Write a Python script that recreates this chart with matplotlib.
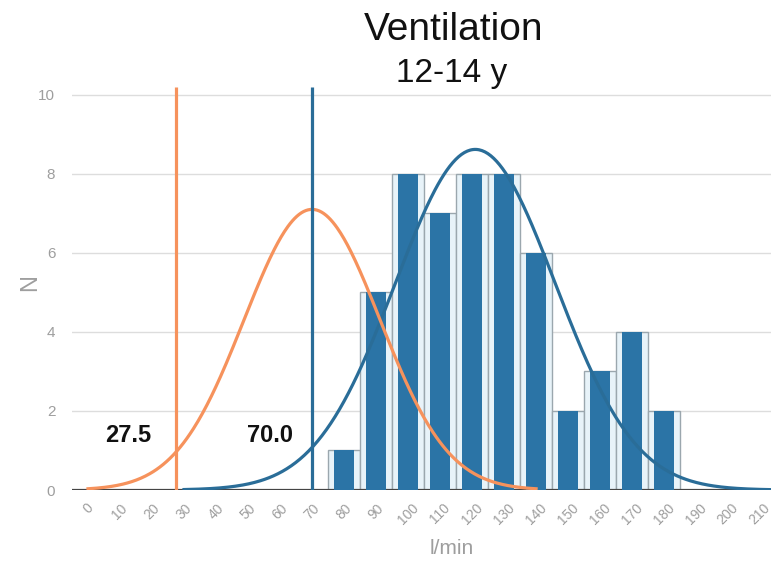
import numpy as np
import matplotlib
matplotlib.use("Agg")
import matplotlib.pyplot as plt

plt.rcParams["font.family"] = ["Liberation Sans", "DejaVu Sans"]

# Histogram of ventilation (l/min), bins of width 10
bin_centers = [80, 90, 100, 110, 120, 130, 140, 150, 160, 170, 180]
counts = [1, 5, 8, 7, 8, 8, 6, 2, 3, 4, 2]
bin_width = 10

# Normal fit to the sample
fit_mean = 121.0
fit_sd = 25.0
fit_range = (30, 213)

# Reference distribution
ref_mean = 70.0
ref_sd = 21.25
ref_peak = 7.1
ref_range = (0, 140)

# Cut-off markers
cut_low = 27.5
cut_ref = 70.0

x_ticks = list(range(0, 211, 10))
y_ticks = [0, 2, 4, 6, 8, 10]

blue = "#2b74a6"
blue_line = "#2a6d98"
orange = "#f6925c"
grey_text = "#9e9e9e"

fig = plt.figure(figsize=(7.71, 5.65), dpi=100)
ax = fig.add_axes([72 / 771, 1 - 490 / 565, 1 - 72 / 771, (490 - 75) / 565])
ax.set_xlim(-5, 213.4)
ax.set_ylim(0, 10.5)

for s in ax.spines.values():
    s.set_visible(False)
ax.set_yticks(y_ticks)
ax.yaxis.grid(True, color="#dddddd", linewidth=1)
ax.set_axisbelow(True)
ax.tick_params(axis="both", length=0, colors=grey_text, labelsize=10)
ax.tick_params(axis="y", pad=12, labelsize=11)
ax.set_xticks(x_ticks)
ax.set_xticklabels([str(t) for t in x_ticks], rotation=45, ha="center", va="top")
ax.tick_params(axis="x", pad=8)
ax.axhline(0, color="#444444", linewidth=1.6, zorder=2)

# Outline boxes and inner bars
ax.bar(bin_centers, counts, width=bin_width, color="#e8f3f9",
       edgecolor="#9ba7ae", linewidth=1.0, zorder=1)
ax.bar(bin_centers, counts, width=6.2, color=blue, linewidth=0, zorder=3)

# Fitted normal curve scaled to counts
n_total = sum(counts)
xf = np.linspace(fit_range[0], fit_range[1], 400)
yf = n_total * bin_width / (fit_sd * np.sqrt(2 * np.pi)) * np.exp(-0.5 * ((xf - fit_mean) / fit_sd) ** 2)
ax.plot(xf, yf, color=blue_line, linewidth=2.3, zorder=4)

# Reference curve
xr = np.linspace(ref_range[0], ref_range[1], 400)
yr = ref_peak * np.exp(-0.5 * ((xr - ref_mean) / ref_sd) ** 2)
ax.plot(xr, yr, color=orange, linewidth=2.3, zorder=4)

# Vertical markers
ax.plot([cut_low, cut_low], [0, 10.2], color=orange, linewidth=2.3, zorder=5, solid_capstyle="butt")
ax.plot([cut_ref, cut_ref], [0, 10.2], color=blue_line, linewidth=2.3, zorder=5, solid_capstyle="butt")
ax.text(cut_low - 15, 1.37, f"{cut_low:.1f}", fontsize=17, fontweight="bold",
        ha="center", va="center", color="#111111", zorder=6)
ax.text(cut_ref - 13, 1.37, f"{cut_ref:.1f}", fontsize=17, fontweight="bold",
        ha="center", va="center", color="#111111", zorder=6)

ax.set_ylabel("N", fontsize=17, color=grey_text, ha="center", va="center")
ax.yaxis.set_label_coords((30 - 72) / (771 - 72), 0.5)
fig.text(452 / 771, 1 - 548 / 565, "l/min", fontsize=15, color=grey_text, ha="center", va="center")

fig.text(454 / 771, 1 - 30 / 565, "Ventilation", fontsize=28, ha="center", va="center", color="#111111")
fig.text(452 / 771, 1 - 73 / 565, "12-14 y", fontsize=24, ha="center", va="center", color="#111111")

fig.savefig("out.png", dpi=100)
